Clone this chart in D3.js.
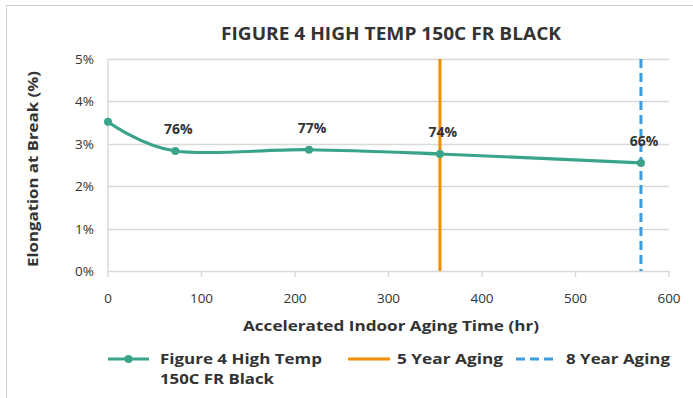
<!DOCTYPE html>
<html lang="en">
  <head>
    <meta charset="UTF-8" />
    <title>Figure 4 High Temp 150C FR Black</title>
    <script src="https://d3js.org/d3.v7.min.js"></script>
    <style>
      body {
        margin: 0;
        background: #fff;
        font-family: "Open Sans", "Noto Sans", sans-serif;
      }
      svg text {
        fill: #333;
      }
    </style>
  </head>
  <body>
    <div id="chart"></div>
    <script>
      // values
      const hours = [0, 72, 215, 355, 570];
      const elongation = [3.52, 2.83, 2.86, 2.76, 2.55];
      const retention = ["", "76%", "77%", "74%", "66%"];
      const agingMarks = [355, 570];
      const xTicks = [0, 100, 200, 300, 400, 500, 600];
      const yTicks = [0, 1, 2, 3, 4, 5];

      const width = 693;
      const height = 398;
      const green = "#3aa48b";
      const orange = "#f28c00";
      const blue = "#3d9ddb";

      const svg = d3
        .select("#chart")
        .append("svg")
        .attr("width", width)
        .attr("height", height);

      // chart frame (only top & left edges visible in the crop)
      svg.append("path")
        .attr("d", `M6.5,${height} V5.5 H${width}`)
        .attr("fill", "none")
        .attr("stroke", "#d0d0d0");

      const x = d3.scaleLinear().domain([0, 600]).range([108, 669]);
      const y = d3.scaleLinear().domain([0, 5]).range([271, 59]);

      // gridlines
      svg.append("g")
        .selectAll("line")
        .data(yTicks)
        .join("line")
        .attr("x1", x(0))
        .attr("x2", x(600))
        .attr("y1", (d) => Math.round(y(d)) + 0.5)
        .attr("y2", (d) => Math.round(y(d)) + 0.5)
        .attr("stroke", "#d9d9d9")
        .attr("stroke-width", 1.5);

      // vertical axis line
      svg.append("line")
        .attr("x1", x(0)).attr("x2", x(0))
        .attr("y1", y(5)).attr("y2", y(0))
        .attr("stroke", "#d9d9d9")
        .attr("stroke-width", 1.5);

      // x tick marks
      svg.append("g")
        .selectAll("line")
        .data(xTicks)
        .join("line")
        .attr("x1", (d) => x(d))
        .attr("x2", (d) => x(d))
        .attr("y1", y(0))
        .attr("y2", y(0) + 6)
        .attr("stroke", "#d9d9d9")
        .attr("stroke-width", 1.5);

      svg.append("g")
        .selectAll("text")
        .data(xTicks)
        .join("text")
        .attr("x", (d) => x(d))
        .attr("y", 303)
        .attr("text-anchor", "middle")
        .style("font-size", "13.5px")
        .text((d) => d);

      svg.append("g")
        .selectAll("text")
        .data(yTicks)
        .join("text")
        .attr("x", 94)
        .attr("y", (d) => y(d) + 5)
        .attr("text-anchor", "end")
        .style("font-size", "13.5px")
        .text((d) => d + "%");

      // title and axis titles
      svg.append("text")
        .attr("x", 391)
        .attr("y", 40)
        .attr("text-anchor", "middle")
        .attr("textLength", 340)
        .attr("lengthAdjust", "spacingAndGlyphs")
        .style("font-size", "18px")
        .style("font-weight", "bold")
        .text("FIGURE 4 HIGH TEMP 150C FR BLACK");

      svg.append("text")
        .attr("x", 391)
        .attr("y", 331)
        .attr("text-anchor", "middle")
        .attr("textLength", 296)
        .attr("lengthAdjust", "spacingAndGlyphs")
        .style("font-size", "15px")
        .style("font-weight", "bold")
        .text("Accelerated Indoor Aging Time (hr)");

      svg.append("text")
        .attr("transform", "translate(38,169) rotate(-90)")
        .attr("text-anchor", "middle")
        .attr("textLength", 196)
        .attr("lengthAdjust", "spacingAndGlyphs")
        .style("font-size", "15px")
        .style("font-weight", "bold")
        .text("Elongation at Break (%)");

      // aging reference lines
      svg.append("line")
        .attr("x1", x(agingMarks[0])).attr("x2", x(agingMarks[0]))
        .attr("y1", y(5)).attr("y2", y(0))
        .attr("stroke", orange)
        .attr("stroke-width", 3);

      svg.append("line")
        .attr("x1", x(agingMarks[1])).attr("x2", x(agingMarks[1]))
        .attr("y1", y(5)).attr("y2", y(0))
        .attr("stroke", blue)
        .attr("stroke-width", 3)
        .attr("stroke-dasharray", "9,5");

      // smoothed series
      const pts = hours.map((h, i) => [h, elongation[i]]);
      const line = d3
        .line()
        .x((d) => x(d[0]))
        .y((d) => y(d[1]))
        .curve(d3.curveCardinal.tension(0));

      svg.append("path")
        .datum(pts)
        .attr("d", line)
        .attr("fill", "none")
        .attr("stroke", green)
        .attr("stroke-width", 3.2);

      svg.append("g")
        .selectAll("circle")
        .data(pts)
        .join("circle")
        .attr("cx", (d) => x(d[0]))
        .attr("cy", (d) => y(d[1]))
        .attr("r", 4)
        .attr("fill", green);

      svg.append("g")
        .selectAll("text")
        .data(pts)
        .join("text")
        .attr("x", (d) => x(d[0]) + 3)
        .attr("y", (d) => y(d[1]) - 17)
        .attr("text-anchor", "middle")
        .style("font-size", "14px")
        .style("font-weight", "bold")
        .text((d, i) => retention[i]);

      // legend
      const leg = svg.append("g");
      leg.append("line")
        .attr("x1", 108).attr("x2", 149)
        .attr("y1", 359).attr("y2", 359)
        .attr("stroke", green).attr("stroke-width", 3.2);
      leg.append("circle")
        .attr("cx", 128.5).attr("cy", 359).attr("r", 4)
        .attr("fill", green);
      leg.append("text")
        .attr("x", 160).attr("y", 364)
        .attr("textLength", 162)
        .attr("lengthAdjust", "spacingAndGlyphs")
        .style("font-size", "15px").style("font-weight", "bold")
        .text("Figure 4 High Temp");
      leg.append("text")
        .attr("x", 160).attr("y", 384)
        .attr("textLength", 114)
        .attr("lengthAdjust", "spacingAndGlyphs")
        .style("font-size", "15px").style("font-weight", "bold")
        .text("150C FR Black");

      leg.append("line")
        .attr("x1", 348).attr("x2", 390)
        .attr("y1", 359).attr("y2", 359)
        .attr("stroke", orange).attr("stroke-width", 3.2);
      leg.append("text")
        .attr("x", 397).attr("y", 364)
        .attr("textLength", 106)
        .attr("lengthAdjust", "spacingAndGlyphs")
        .style("font-size", "15px").style("font-weight", "bold")
        .text("5 Year Aging");

      leg.append("line")
        .attr("x1", 516).attr("x2", 558)
        .attr("y1", 359).attr("y2", 359)
        .attr("stroke", blue).attr("stroke-width", 3.2)
        .attr("stroke-dasharray", "9,5");
      leg.append("text")
        .attr("x", 566).attr("y", 364)
        .attr("textLength", 104)
        .attr("lengthAdjust", "spacingAndGlyphs")
        .style("font-size", "15px").style("font-weight", "bold")
        .text("8 Year Aging");
    </script>
  </body>
</html>
